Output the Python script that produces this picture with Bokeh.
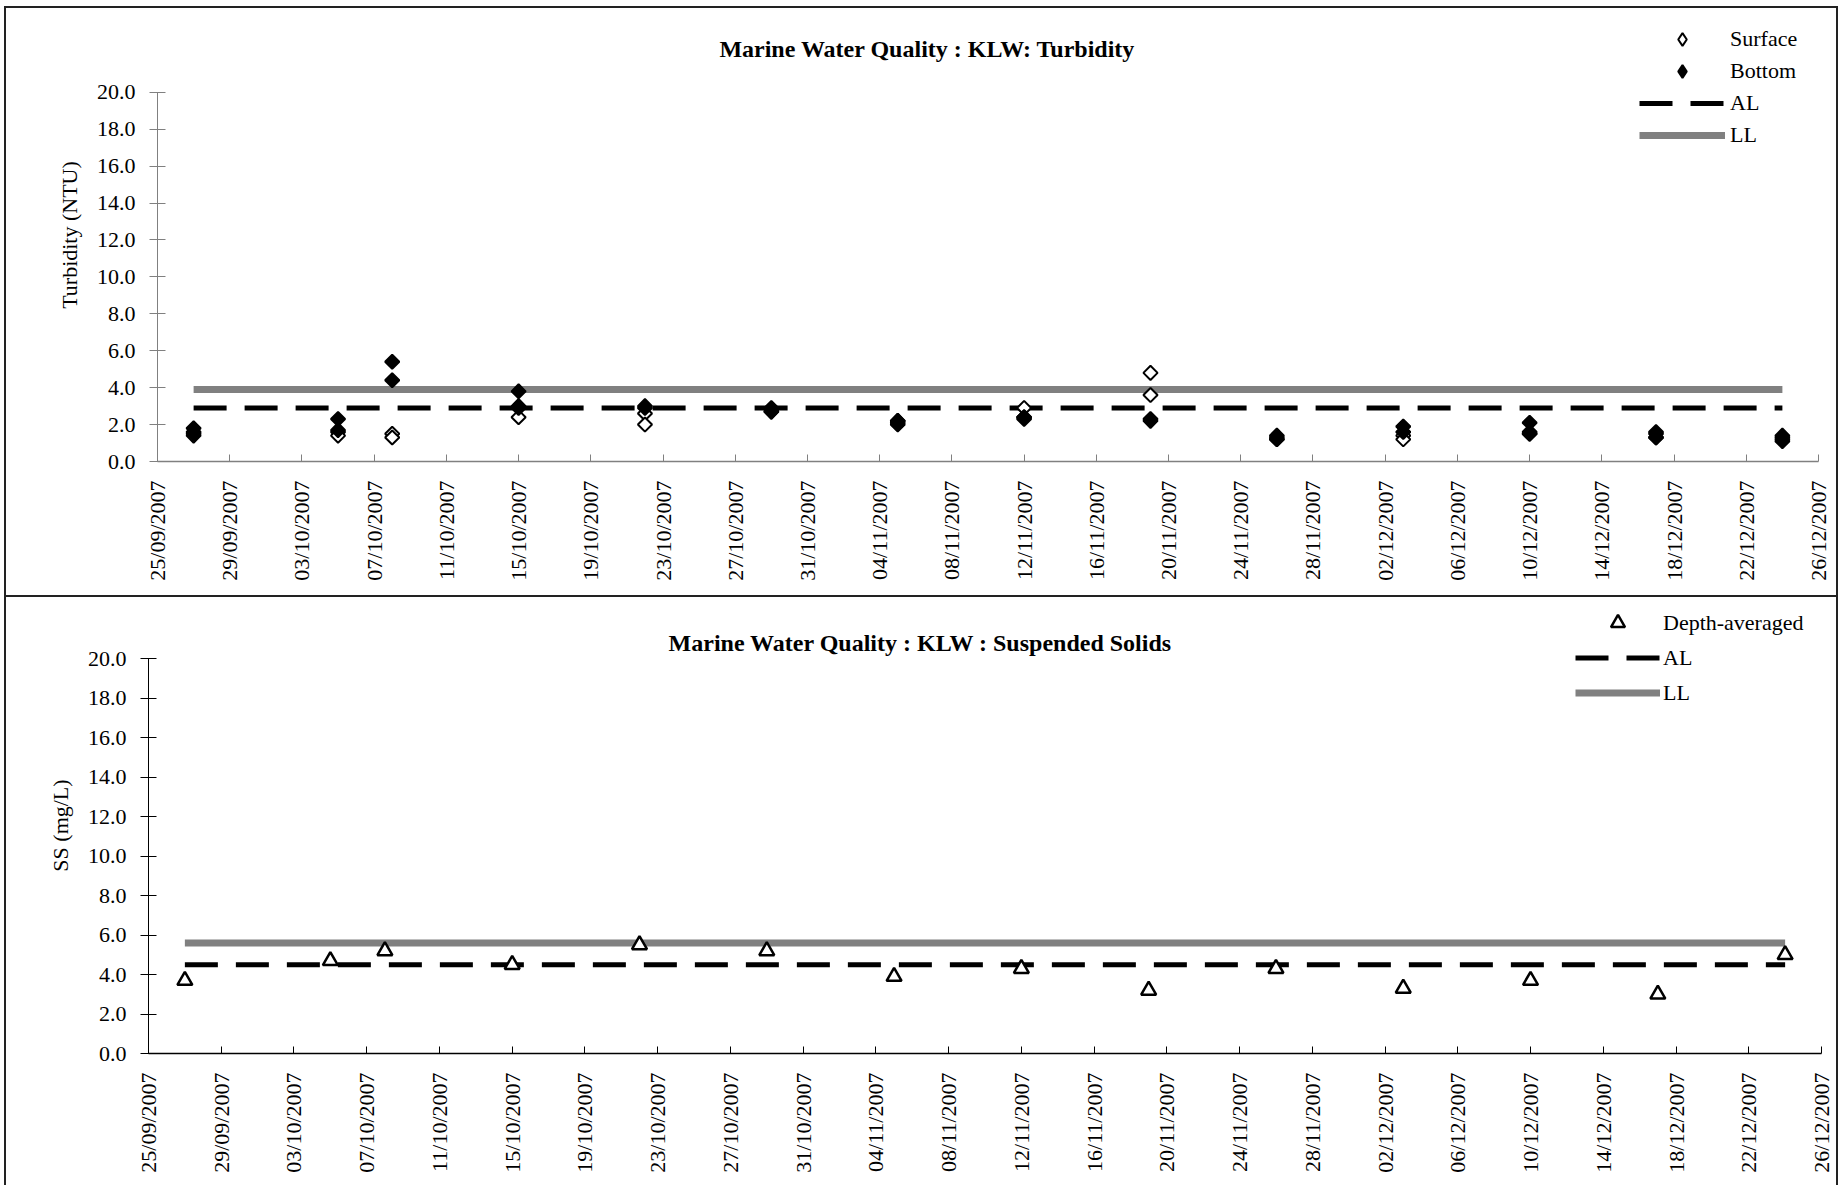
from datetime import datetime
from math import pi

from bokeh.plotting import figure
from bokeh.models import (Range1d, FixedTicker, DatetimeTickFormatter, PrintfTickFormatter,
                          Legend, LegendItem, Label, ColumnDataSource, CDSView, IndexFilter)
from bokeh.layouts import column
from bokeh.embed import file_html
from bokeh.resources import INLINE

# ---------------- data ----------------
sample_dates = ["27/09/2007", "05/10/2007", "08/10/2007", "15/10/2007", "22/10/2007",
                "29/10/2007", "05/11/2007", "12/11/2007", "19/11/2007", "26/11/2007",
                "03/12/2007", "10/12/2007", "17/12/2007", "24/12/2007"]

# Turbidity (NTU): two readings per sampling day at each depth
surface_1 = [1.6, 1.6, 1.5, 2.4, 2.6, 2.8, 2.2, 2.9, 4.8, 1.3, 1.4, 1.6, 1.5, 1.3]
surface_2 = [1.4, 1.4, 1.3, 2.9, 2.0, 2.7, 2.0, 2.4, 3.6, 1.2, 1.2, 1.5, 1.3, 1.2]
bottom_1 = [1.8, 2.3, 5.4, 3.8, 3.0, 2.9, 2.2, 2.4, 2.3, 1.4, 1.9, 2.1, 1.6, 1.4]
bottom_2 = [1.5, 1.7, 4.4, 3.0, 2.9, 2.7, 2.1, 2.3, 2.2, 1.2, 1.6, 1.5, 1.3, 1.1]
turb_AL = 2.9
turb_LL = 3.9

# Suspended solids (mg/L), depth-averaged
ss_depth_avg = [3.7, 4.7, 5.2, 4.5, 5.5, 5.2, 3.9, 4.3, 3.2, 4.3, 3.3, 3.7, 3.0, 5.0]
ss_AL = 4.5
ss_LL = 5.6

x_tick_labels = ["25/09/2007", "29/09/2007", "03/10/2007", "07/10/2007", "11/10/2007",
                 "15/10/2007", "19/10/2007", "23/10/2007", "27/10/2007", "31/10/2007",
                 "04/11/2007", "08/11/2007", "12/11/2007", "16/11/2007", "20/11/2007",
                 "24/11/2007", "28/11/2007", "02/12/2007", "06/12/2007", "10/12/2007",
                 "14/12/2007", "18/12/2007", "22/12/2007", "26/12/2007"]
y_ticks = [0, 2, 4, 6, 8, 10, 12, 14, 16, 18, 20]
y_axis_max = 20

title_top = "Marine Water Quality : KLW: Turbidity"
title_bottom = "Marine Water Quality : KLW : Suspended Solids"

# ---------------- helpers ----------------
EPOCH = datetime(1970, 1, 1)


def to_ms(s):
    return (datetime.strptime(s, "%d/%m/%Y") - EPOCH).total_seconds() * 1000.0


dates_ms = [to_ms(d) for d in sample_dates]
ticks_ms = [to_ms(d) for d in x_tick_labels]

SERIF = "Liberation Serif"
FMT = "%d/%m/%Y"
CANVAS_W = 1830


def make_fig(height, ml, mr, mb, axis_px, styles, axis_color):
    """Frame spans from the canvas top down to the x axis; the y axis itself is
    bounded to 0..20 and occupies axis_px pixels at the bottom of the frame."""
    frame_h = height - mb
    y_top = y_axis_max * frame_h / axis_px
    p = figure(width=CANVAS_W, height=height, x_axis_type="datetime",
               x_range=Range1d(ticks_ms[0], ticks_ms[-1]), y_range=Range1d(0, y_top),
               output_backend="svg", toolbar_location=None,
               min_border_left=ml, min_border_right=mr, min_border_top=0, min_border_bottom=mb,
               styles=styles)
    p.frame_align = False
    p.xgrid.visible = False
    p.ygrid.visible = False
    p.outline_line_color = None
    p.background_fill_color = "white"
    p.border_fill_color = "white"

    xa = p.xaxis[0]
    xa.ticker = FixedTicker(ticks=ticks_ms)
    xa.formatter = DatetimeTickFormatter(days=FMT, months=FMT, years=FMT, hours=FMT,
                                         hourmin=FMT, minutes=FMT, minsec=FMT, seconds=FMT,
                                         milliseconds=FMT, microseconds=FMT)
    xa.major_label_orientation = pi / 2
    xa.major_label_text_font = SERIF
    xa.major_label_text_font_size = "22px"
    xa.major_label_text_color = "black"
    xa.major_label_standoff = 19
    xa.major_tick_in = 7
    xa.major_tick_out = 0
    xa.minor_tick_line_color = None
    xa.axis_line_color = axis_color
    xa.major_tick_line_color = axis_color
    xa.axis_line_width = 1.5

    ya = p.yaxis[0]
    ya.bounds = (0, y_axis_max)
    ya.ticker = FixedTicker(ticks=y_ticks)
    ya.formatter = PrintfTickFormatter(format="%.1f")
    ya.major_label_text_font = SERIF
    ya.major_label_text_font_size = "22px"
    ya.major_label_text_color = "black"
    ya.major_label_standoff = 14
    ya.major_tick_in = 8
    ya.major_tick_out = 8
    ya.minor_tick_line_color = None
    ya.axis_line_color = axis_color
    ya.major_tick_line_color = axis_color
    ya.axis_label_text_font = SERIF
    ya.axis_label_text_font_size = "22px"
    ya.axis_label_text_font_style = "normal"
    ya.axis_label_text_color = "black"
    ya.axis_label_standoff = 12
    return p


BORDER = "2px solid #222"

# ---------------- top panel: turbidity ----------------
p1 = make_fig(587, 151, 22, 138, 366,
              {"border": BORDER, "box-sizing": "content-box"}, "#808080")
p1.yaxis[0].axis_label = "Turbidity (NTU)"
# a y range that the frame never shows, used only by the legend swatches below
p1.extra_y_ranges = {"legend_only": Range1d(1000, 1001)}

span_x = [dates_ms[0], dates_ms[-1]]
r_ll1 = p1.line(x=span_x, y=[turb_LL, turb_LL], line_color="#808080", line_width=7)
r_al1 = p1.line(x=span_x, y=[turb_AL, turb_AL], line_color="black", line_width=5,
                line_dash="33 18")

src_s = ColumnDataSource(dict(x=dates_ms + dates_ms, y=surface_1 + surface_2))
src_b = ColumnDataSource(dict(x=dates_ms + dates_ms, y=bottom_1 + bottom_2))
r_s = p1.scatter("x", "y", source=src_s, marker="square", angle=pi / 4, size=10,
                 fill_color="white", line_color="black", line_width=2)
r_b = p1.scatter("x", "y", source=src_b, marker="square", angle=pi / 4, size=10,
                 fill_color="black", line_color="black", line_width=2)

# legend swatches: diamond marker on the off-screen range (nothing drawn in the frame)
lg_s = p1.scatter("x", "y", source=src_s, view=CDSView(filter=IndexFilter(indices=[0])),
                  y_range_name="legend_only", marker="diamond",
                  fill_color="white", line_color="black", line_width=2)
lg_b = p1.scatter("x", "y", source=src_b, view=CDSView(filter=IndexFilter(indices=[0])),
                  y_range_name="legend_only", marker="diamond",
                  fill_color="black", line_color="black", line_width=2)

leg1 = Legend(items=[LegendItem(label="Surface", renderers=[lg_s]),
                     LegendItem(label="Bottom", renderers=[lg_b]),
                     LegendItem(label="AL", renderers=[r_al1]),
                     LegendItem(label="LL", renderers=[r_ll1])],
              location=(1482, 310), orientation="vertical", padding=0, margin=0, spacing=0,
              glyph_width=86, glyph_height=32, label_height=32, label_standoff=5,
              border_line_color=None, background_fill_alpha=0,
              label_text_font=SERIF, label_text_font_size="22px", label_text_color="black")
p1.add_layout(leg1)

p1.add_layout(Label(x=770, y=413, x_units="screen", y_units="screen", text=title_top,
                    text_align="center", text_baseline="middle", text_font=SERIF,
                    text_font_style="bold", text_font_size="24px", text_color="black"))

# ---------------- bottom panel: suspended solids ----------------
p2 = make_fig(588, 142, 19, 132, 395,
              {"border-left": BORDER, "border-right": BORDER, "box-sizing": "content-box"},
              "black")
p2.yaxis[0].axis_label = "SS (mg/L)"

r_ll2 = p2.line(x=span_x, y=[ss_LL, ss_LL], line_color="#808080", line_width=7)
r_al2 = p2.line(x=span_x, y=[ss_AL, ss_AL], line_color="black", line_width=5,
                line_dash="33 18")
src_ss = ColumnDataSource(dict(x=dates_ms, y=ss_depth_avg))
r_ss = p2.scatter("x", "y", source=src_ss, marker="triangle", size=15,
                  fill_color="white", line_color="black", line_width=2.5)

leg2 = Legend(items=[LegendItem(label="Depth-averaged", renderers=[r_ss]),
                     LegendItem(label="AL", renderers=[r_al2]),
                     LegendItem(label="LL", renderers=[r_ll2])],
              location=(1427, 343), orientation="vertical", padding=0, margin=0, spacing=0,
              glyph_width=85, glyph_height=35, label_height=35, label_standoff=3,
              border_line_color=None, background_fill_alpha=0,
              label_text_font=SERIF, label_text_font_size="22px", label_text_color="black")
p2.add_layout(leg2)

p2.add_layout(Label(x=772, y=411, x_units="screen", y_units="screen", text=title_bottom,
                    text_align="center", text_baseline="middle", text_font=SERIF,
                    text_font_style="bold", text_font_size="24px", text_color="black"))

layout = column(p1, p2, spacing=0, styles={"margin-left": "4px", "margin-top": "6px"})
open("out.html", "w").write(file_html(layout, INLINE))
